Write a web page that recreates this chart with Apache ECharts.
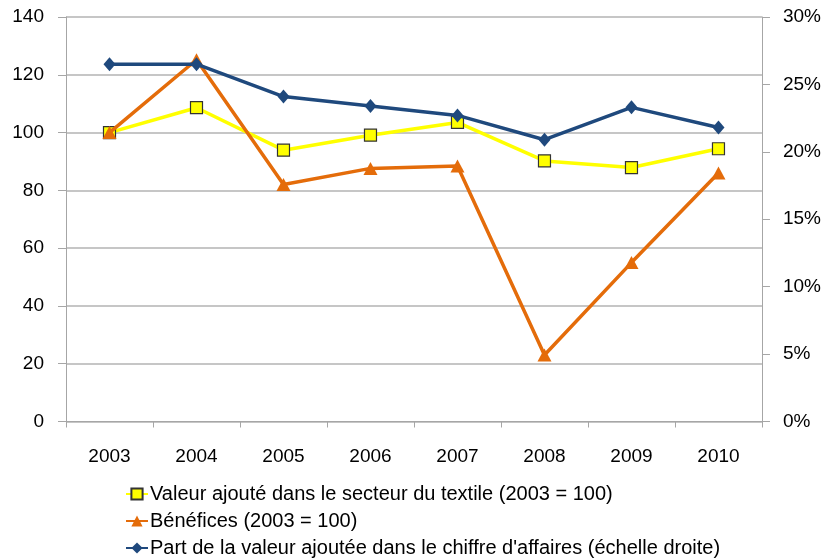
<!DOCTYPE html>
<html>
<head>
<meta charset="utf-8">
<script src="https://cdn.jsdelivr.net/npm/echarts@6/dist/echarts.min.js"></script>
<style>
html,body{margin:0;padding:0;background:#fff;}
#chart{width:824px;height:559px;}
</style>
</head>
<body>
<div id="chart"></div>
<script>
const years = ['2003','2004','2005','2006','2007','2008','2009','2010'];
const valeurAjoutee = [100, 108.6, 93.9, 99.1, 103.5, 90.2, 87.9, 94.4];
const benefices = [100, 125.2, 82, 87.6, 88.4, 23, 55, 86];
const partValeur = [26.5, 26.5, 24.1, 23.4, 22.7, 20.9, 23.3, 21.8];
const leftTicks = {min: 0, max: 140, interval: 20};
const rightTicks = {min: 0, max: 30, interval: 5};

const FONT = 'Liberation Sans, Arial, sans-serif';
const FS = 19;
const chart = echarts.init(document.getElementById('chart'));
chart.setOption({
  animation: false,
  textStyle: {fontFamily: FONT},
  grid: {left: 66, right: 62, top: 17, bottom: 137.5, containLabel: false},
  legend: {
    orient: 'vertical',
    left: 125,
    top: 483,
    padding: 0,
    itemGap: 5,
    itemWidth: 22,
    itemHeight: 14,
    textStyle: {fontFamily: FONT, fontSize: 20, lineHeight: 22, color: '#000', padding: [0,0,0,-3]},
    data: [
      'Valeur ajouté dans le secteur du textile (2003 = 100)',
      'Bénéfices (2003 = 100)',
      "Part de la valeur ajoutée dans le chiffre d'affaires (échelle droite)"
    ]
  },
  xAxis: {
    type: 'category',
    data: years,
    boundaryGap: true,
    axisLine: {lineStyle: {color: '#a6a6a6', width: 1}},
    axisTick: {show: true, length: 6, lineStyle: {color: '#a6a6a6'}},
    axisLabel: {fontFamily: FONT, fontSize: FS, color: '#000', margin: 26},
    splitLine: {show: false}
  },
  yAxis: [
    {
      type: 'value', position: 'left',
      min: leftTicks.min, max: leftTicks.max, interval: leftTicks.interval,
      axisLine: {show: true, lineStyle: {color: '#a6a6a6'}},
      axisTick: {show: true, length: 8, lineStyle: {color: '#a6a6a6'}},
      axisLabel: {fontFamily: FONT, fontSize: FS, color: '#000', margin: 22},
      splitLine: {show: true, lineStyle: {color: '#b3b3b3', width: 1.5}}
    },
    {
      type: 'value', position: 'right',
      min: rightTicks.min, max: rightTicks.max, interval: rightTicks.interval,
      axisLine: {show: true, lineStyle: {color: '#a6a6a6'}},
      axisTick: {show: true, length: 8, lineStyle: {color: '#a6a6a6'}},
      axisLabel: {fontFamily: FONT, fontSize: FS, color: '#000', margin: 21, formatter: '{value}%'},
      splitLine: {show: false}
    }
  ],
  series: [
    {
      name: 'Valeur ajouté dans le secteur du textile (2003 = 100)',
      type: 'line', yAxisIndex: 0, data: valeurAjoutee,
      symbol: 'rect', symbolSize: 12,
      lineStyle: {color: '#ffff00', width: 3.5},
      itemStyle: {color: '#ffff00', borderColor: '#333', borderWidth: 1.2},
      z: 3
    },
    {
      name: 'Bénéfices (2003 = 100)',
      type: 'line', yAxisIndex: 0, data: benefices,
      symbol: 'triangle', symbolSize: [14, 13],
      lineStyle: {color: '#e46c0a', width: 3.5},
      itemStyle: {color: '#e46c0a'},
      z: 4
    },
    {
      name: "Part de la valeur ajoutée dans le chiffre d'affaires (échelle droite)",
      type: 'line', yAxisIndex: 1, data: partValeur,
      symbol: 'diamond', symbolSize: [12, 14],
      lineStyle: {color: '#1f497d', width: 3.5},
      itemStyle: {color: '#1f497d'},
      z: 5
    }
  ]
});
</script>
</body>
</html>
